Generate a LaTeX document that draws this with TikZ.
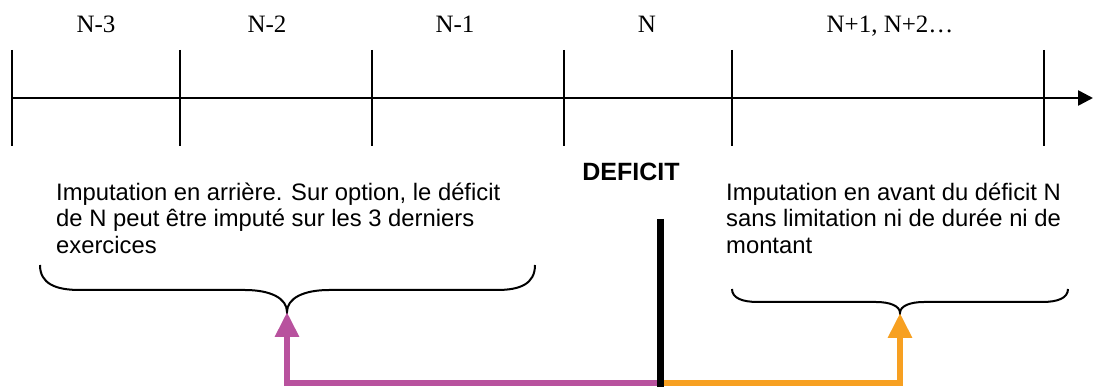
\documentclass[tikz,border=0pt]{standalone}
\usepackage{fontspec}
\setmainfont{Liberation Serif}
\setsansfont{Liberation Sans}
\usetikzlibrary{arrows.meta}
\definecolor{backpurple}{RGB}{184,82,158}
\definecolor{fwdorange}{RGB}{247,160,33}
\tikzset{
  ticksty/.style={line width=1.6pt, black},
  axissty/.style={line width=2.6pt, black, -{Triangle[length=15pt,width=15pt]}},
  yearlbl/.style={inner sep=0pt, anchor=base, font=\fontsize{25}{28}\selectfont},
  explain/.style={inner sep=0pt, anchor=north west, align=left, font=\sffamily\fontsize{23.8}{26.5}\selectfont},
  bracesty/.style={line width=2pt, black},
  barsty/.style={line width=7pt, black},
  carry/.style={line width=6pt, line join=miter, -{Triangle[length=25pt,width=23pt]}},
}
\begin{document}
\begin{tikzpicture}[x=1pt,y=-1pt]
\useasboundingbox (0,0) rectangle (1096,387);
% axis
\coordinate (ax0) at (12,98);
\coordinate (ax1) at (1093,98);
\draw[axissty] (ax0) -- (ax1);
\foreach \n/\x in {t1/12,t2/180,t3/372,t4/564,t5/732,t6/1044}{
  \coordinate (\n top) at (\x,50);
  \coordinate (\n bot) at (\x,146);
  \draw[ticksty] (\n top) -- (\n bot);
}
% year labels
\node[yearlbl] (y1) at (96,33) {N-3};
\node[yearlbl] (y2) at (267,33) {N-2};
\node[yearlbl] (y3) at (455,33) {N-1};
\node[yearlbl] (y4) at (647,33) {N};
\node[yearlbl] (y5) at (890,33) {N+1, N+2…};
% texts
\node[inner sep=0pt, anchor=base, font=\sffamily\bfseries\fontsize{25}{28}\selectfont] (def) at (631,181) {DEFICIT};
\node[explain] (lefttxt) at (56,182.5) {Imputation en arrière. Sur option, le déficit\\de N peut être imputé sur les 3 derniers\\exercices};
\node[explain] (righttxt) at (726,182.5) {Imputation en avant du déficit N\\sans limitation ni de durée ni de\\montant};
% braces
\coordinate (lb) at (287,312);
\coordinate (rb) at (900,313);
\draw[bracesty] (40,265) .. controls (40,284) and (56,290) .. (80,290)
  -- (245,290) .. controls (270,290) and (287,298) .. (lb)
  .. controls (287,298) and (304,290) .. (329,290)
  -- (497,290) .. controls (520,290) and (535,284) .. (535,265);
\draw[bracesty] (732,289) .. controls (732,298) and (742,302) .. (758,302)
  -- (876,302) .. controls (890,302) and (900,306) .. (rb)
  .. controls (900,306) and (910,302) .. (924,302)
  -- (1042,302) .. controls (1058,302) and (1068,298) .. (1068,289);
% deficit bar and carry arrows
\coordinate (dtop) at (660,219);
\coordinate (d) at (660,383);
\coordinate (dbot) at (660,387);
\draw[carry, backpurple] (d) -| (lb);
\draw[carry, fwdorange] (d) -| (rb);
\draw[barsty] (dtop) -- (dbot);
\end{tikzpicture}
\end{document}
